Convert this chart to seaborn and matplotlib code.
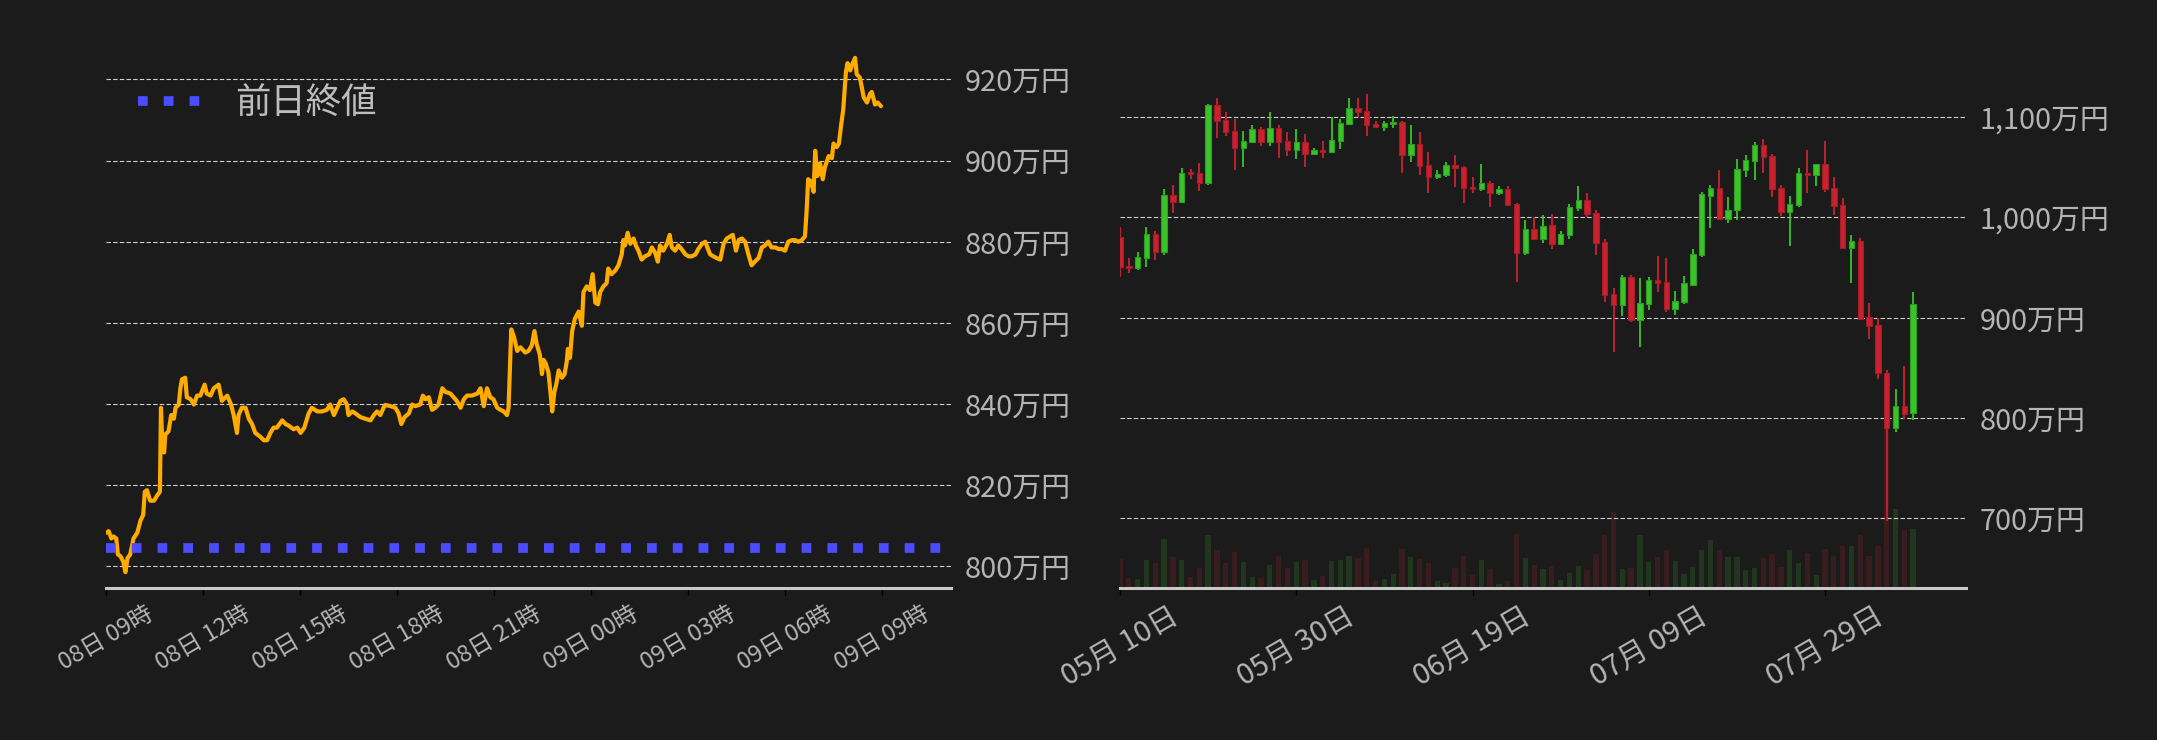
import matplotlib
matplotlib.use("Agg")
import matplotlib.pyplot as plt
import matplotlib.dates as mdates
from matplotlib.ticker import FuncFormatter, FixedLocator
import numpy as np
import pandas as pd
import seaborn as sns

# ---------------- data ----------------
# intraday (left): minutes after 2024-08-08 09:00 JST, price in 万円
intraday_start = "2024-08-08 09:00"
intraday_minutes = [
    0, 5, 10, 14, 19, 22, 27, 32, 36, 40,
    45, 51, 58, 64, 69, 72, 76, 82, 89, 95,
    100, 102, 105, 108, 110, 116, 121, 126, 129, 135,
    138, 141, 147, 150, 157, 163, 169, 175, 183, 187,
    194, 200, 209, 215, 225, 232, 237, 243, 246, 252,
    259, 265, 271, 277, 286, 293, 299, 305, 311, 317,
    327, 333, 339, 348, 355, 361, 368, 376, 382, 392,
    401, 410, 416, 423, 429, 435, 441, 447, 450, 457,
    463, 472, 481, 491, 497, 503, 509, 515, 518, 528,
    537, 543, 548, 554, 562, 568, 574, 583, 588, 593,
    599, 605, 611, 617, 624, 630, 639, 645, 651, 658,
    664, 670, 679, 689, 695, 701, 707, 713, 719, 726,
    732, 738, 744, 747, 752, 757, 763, 769,
    778, 784, 790, 795, 799, 805, 809, 812, 816, 821,
    824, 828, 832, 836, 840, 846, 851, 855, 857, 861,
    865, 870, 877, 883, 886, 892, 898, 903, 908, 913,
    917, 923, 929, 932, 938, 945, 951, 957, 960, 963,
    968, 973, 979, 983, 988, 994, 1000, 1008, 1013, 1019,
    1024, 1028, 1034, 1041, 1046, 1050, 1056, 1062, 1068, 1075,
    1081, 1087, 1094, 1099, 1106, 1112, 1117, 1121, 1127, 1133,
    1140, 1146, 1152, 1158, 1163, 1169, 1174, 1180, 1186, 1192,
    1198, 1204, 1211, 1217, 1223, 1229, 1235, 1242, 1248, 1254,
    1260, 1266, 1273, 1279, 1285, 1291, 1297, 1300, 1303, 1308,
    1313, 1316, 1320, 1325, 1330, 1334, 1341, 1347, 1350, 1356,
    1360, 1364, 1368, 1373, 1376, 1381, 1384, 1390, 1393, 1399,
    1406, 1412, 1418, 1421, 1427, 1432, 1438,
]
intraday_prices = [
    808.3, 808.7, 806.9, 807.4, 806.9, 803.0, 802.5, 801.2, 798.6, 802.1,
    803.0, 806.9, 808.3, 811.3, 812.7, 818.4, 818.8, 816.2, 816.2, 817.5,
    818.4, 839.1, 828.5, 828.1, 832.5, 833.3, 837.3, 836.4, 839.1, 839.9,
    843.9, 846.1, 846.5, 841.7, 841.2, 839.9, 842.1, 842.1, 844.8, 842.6,
    842.1, 843.9, 844.8, 840.8, 842.1, 839.9, 837.3, 832.9, 837.3, 839.1,
    839.1, 836.4, 835.1, 832.9, 832.0, 831.1, 831.1, 832.9, 834.2, 834.2,
    836.0, 835.1, 834.7, 833.8, 834.2, 832.9, 834.2, 837.7, 839.1, 838.2,
    838.2, 838.6, 839.9, 837.3, 839.1, 840.8, 841.2, 839.9, 837.3, 838.2,
    837.7, 836.8, 836.4, 836.0, 837.3, 838.2, 837.3, 839.1, 839.8, 839.5,
    839.1, 837.7, 835.1, 836.8, 837.7, 839.9, 839.5, 839.9, 842.1, 841.2,
    841.7, 838.6, 839.1, 839.9, 843.9, 843.0, 842.6, 841.7, 840.8, 839.1,
    841.2, 842.1, 842.1, 842.6, 843.9, 839.5, 843.9, 841.7, 841.2, 839.1,
    838.6, 838.2, 837.3, 839.1, 858.4, 856.6, 853.1, 854.0,
    852.7, 853.1, 854.4, 858.0, 854.9, 852.2, 847.4, 850.9, 850.0, 847.8,
    843.9, 838.2, 843.0, 845.2, 848.3, 846.5, 847.4, 850.5, 853.6, 851.4,
    858.0, 861.0, 862.8, 859.3, 867.6, 869.0, 868.1, 872.0, 865.0, 864.6,
    867.6, 869.0, 869.8, 873.4, 872.0, 872.9, 874.2, 876.9, 880.4, 879.1,
    882.2, 879.5, 880.8, 879.1, 877.8, 875.6, 876.4, 876.9, 878.6, 877.3,
    875.1, 879.1, 877.8, 879.5, 881.7, 878.6, 877.8, 879.1, 878.2, 876.9,
    876.4, 876.4, 876.9, 878.2, 879.5, 880.0, 878.2, 876.9, 876.4, 876.0,
    875.6, 879.5, 880.8, 881.3, 881.7, 877.8, 880.4, 880.8, 880.0, 876.9,
    874.2, 875.1, 876.0, 878.6, 879.1, 880.0, 878.6, 878.6, 878.2, 878.2,
    877.8, 880.0, 880.4, 880.4, 880.0, 880.4, 881.3, 887.4, 895.4, 894.9,
    892.3, 902.4, 896.2, 899.3, 895.4, 898.4, 901.1, 900.6, 904.2, 903.3,
    904.2, 908.6, 912.5, 921.8, 924.0, 922.2, 923.5, 925.3, 921.3, 920.4,
    915.6, 914.3, 916.5, 916.9, 913.8, 914.3, 913.4,
]
prev_close = 804.6
left_yticks = [800, 820, 840, 860, 880, 900, 920]
legend_label = "前日終値"

# daily candles (right): 2024-05-10 .. 2024-08-08, values in 万円
daily_start = "2024-05-10"
opens = [
    980.3, 951.3, 949.7, 959.7, 983.3, 965.7, 1022.3, 1015.7, 1044.7, 1044.3,
    1034.7, 1112.3, 1097.3, 1086.3, 1069.7, 1075.3, 1088.3, 1075.7, 1089.3, 1076.3,
    1067.7, 1075.3, 1063.7, 1067.3, 1065.7, 1076.7, 1093.7, 1109.3, 1106.3, 1093.3,
    1090.7, 1093.7, 1095.3, 1062.7, 1073.3, 1052.3, 1040.7, 1042.7, 1052.3, 1050.3,
    1030.3, 1028.7, 1034.3, 1024.7, 1028.3, 1013.3, 964.7, 988.3, 978.7, 992.3,
    973.7, 982.7, 1009.7, 1017.3, 1004.3, 975.3, 923.3, 912.7, 940.3, 897.7,
    913.7, 937.3, 935.3, 908.7, 915.7, 932.7, 962.7, 1021.7, 1029.3, 998.7,
    1007.7, 1047.7, 1056.7, 1072.3, 1061.3, 1029.3, 1005.7, 1012.7, 1044.3, 1042.7,
    1053.3, 1029.3, 1012.3, 969.7, 976.3, 900.3, 892.3, 845.3, 789.7, 812.3,
    804.7,
]
closes = [
    950.7, 949.7, 960.3, 983.3, 965.7, 1022.3, 1015.7, 1044.3, 1043.7, 1034.7,
    1112.3, 1096.7, 1085.7, 1069.7, 1076.3, 1088.3, 1075.7, 1089.3, 1075.7, 1067.7,
    1075.3, 1063.7, 1067.3, 1065.7, 1077.3, 1094.3, 1109.3, 1105.3, 1092.7, 1090.7,
    1094.3, 1095.3, 1062.7, 1073.3, 1051.7, 1040.7, 1043.3, 1052.3, 1049.7, 1029.7,
    1028.7, 1034.3, 1024.7, 1028.3, 1012.7, 964.7, 988.3, 978.7, 991.3, 973.7,
    983.3, 1010.3, 1017.3, 1003.7, 974.7, 922.7, 912.7, 940.3, 897.7, 914.3,
    937.3, 934.7, 908.7, 916.3, 934.3, 963.3, 1023.3, 1029.3, 998.7, 1007.3,
    1048.3, 1057.3, 1072.3, 1060.7, 1028.7, 1005.7, 1013.3, 1044.3, 1042.7, 1053.3,
    1028.7, 1011.7, 969.7, 976.3, 898.7, 891.7, 844.7, 789.7, 812.3, 803.7,
    913.3,
]
highs = [
    990.3, 959.3, 965.3, 990.3, 986.3, 1028.3, 1032.3, 1049.3, 1048.3, 1054.3,
    1113.3, 1119.3, 1105.3, 1098.3, 1086.3, 1092.3, 1090.3, 1105.3, 1092.3, 1085.3,
    1088.3, 1083.3, 1069.3, 1076.3, 1100.3, 1098.3, 1119.3, 1119.3, 1123.3, 1096.3,
    1096.3, 1101.3, 1096.3, 1092.3, 1085.3, 1065.3, 1047.3, 1055.3, 1062.3, 1051.3,
    1040.3, 1053.3, 1036.3, 1031.3, 1031.3, 1014.7, 997.3, 1000.7, 1002.3, 1003.3,
    986.3, 1013.3, 1031.3, 1024.3, 1007.3, 978.3, 929.3, 942.3, 942.3, 939.3,
    940.3, 961.3, 959.3, 926.3, 941.3, 968.3, 1025.3, 1032.3, 1047.3, 1020.3,
    1058.3, 1062.3, 1075.3, 1078.3, 1063.3, 1032.3, 1021.3, 1049.3, 1067.3, 1053.3,
    1076.3, 1040.3, 1019.3, 982.3, 979.3, 914.3, 899.3, 848.3, 829.3, 852.3,
    925.3,
]
lows = [
    940.7, 944.7, 947.7, 950.7, 957.7, 962.7, 1004.7, 1015.7, 1038.7, 1026.7,
    1032.7, 1079.7, 1081.7, 1047.3, 1050.3, 1074.7, 1071.7, 1071.7, 1059.3, 1061.7,
    1058.3, 1050.3, 1062.7, 1059.3, 1064.7, 1068.3, 1093.7, 1100.0, 1081.7, 1090.7,
    1086.7, 1089.7, 1044.7, 1055.7, 1042.7, 1024.7, 1038.7, 1040.7, 1030.7, 1014.7,
    1024.7, 1026.7, 1010.7, 1022.7, 1011.7, 935.7, 962.7, 977.7, 974.7, 968.7,
    973.7, 978.7, 1006.7, 1000.7, 962.7, 915.7, 865.7, 901.7, 895.7, 870.7,
    907.7, 925.7, 905.7, 902.7, 913.7, 932.7, 960.7, 989.7, 997.7, 994.7,
    997.7, 1040.7, 1037.7, 1044.7, 1020.7, 1001.7, 971.7, 1010.7, 1024.7, 1031.7,
    1025.7, 1002.7, 969.7, 934.7, 898.7, 878.7, 838.7, 697.3, 785.7, 798.7,
    797.7,
]
volumes = [
    88, 31, 28, 85, 76, 148, 94, 85, 34, 61,
    160, 115, 76, 109, 79, 34, 31, 70, 97, 61,
    79, 85, 25, 37, 82, 85, 97, 91, 121, 22,
    28, 43, 118, 94, 88, 76, 22, 16, 61, 97,
    40, 85, 58, 13, 22, 163, 91, 70, 58, 67,
    25, 46, 67, 55, 103, 160, 229, 58, 61, 160,
    79, 94, 115, 82, 43, 64, 115, 145, 115, 94,
    94, 55, 61, 91, 103, 64, 115, 76, 106, 40,
    118, 97, 127, 127, 160, 97, 127, 482, 238, 175,
    178,
]
right_yticks = [700, 800, 900, 1000, 1100]
right_xtick_dates = ["2024-05-10", "2024-05-30", "2024-06-19", "2024-07-09", "2024-07-29"]

# ---------------- style ----------------
BG = "#1b1b1b"
TXT = "#b4b4b4"
GRID = "#cfcfcf"
UP = "#3bc42a"
DOWN = "#c9222f"
UP_EDGE = "#2e9e22"
DOWN_EDGE = "#a51b27"

sns.set_theme(style="dark", rc={
    "axes.facecolor": BG, "figure.facecolor": BG, "savefig.facecolor": BG,
    "axes.edgecolor": "#c8c8c8", "text.color": TXT,
    "xtick.color": TXT, "ytick.color": TXT,
})
plt.rcParams["font.family"] = ["Noto Sans CJK JP", "DejaVu Sans"]

W, H = 2157, 740
fig = plt.figure(figsize=(W / 100, H / 100), dpi=100)
ax1 = fig.add_axes([106 / W, 152 / H, 845 / W, 548 / H])
ax2 = fig.add_axes([1120 / W, 152 / H, 846 / W, 548 / H])

# ---------------- left: intraday ----------------
t0 = pd.Timestamp(intraday_start)
times = t0 + pd.to_timedelta(intraday_minutes, unit="m")
df = pd.DataFrame({"time": times, "price": intraday_prices})
sns.lineplot(data=df, x="time", y="price", ax=ax1, color="#ffab00",
             linewidth=3.0, zorder=3)
ax1.axhline(prev_close, color="#4b4bff", lw=7, ls=":", label=legend_label, zorder=4)

ax1.set_xlim(t0, t0 + pd.Timedelta(minutes=1568))
ax1.set_ylim(794.7, 929.7)
ax1.set_xlabel("")
ax1.set_ylabel("")
ax1.set_yticks(left_yticks)
ax1.yaxis.tick_right()
ax1.yaxis.set_major_formatter(FuncFormatter(lambda v, p: f"{int(round(v)):,}万円"))
ax1.xaxis.set_major_locator(mdates.HourLocator(byhour=range(0, 24, 3)))
ax1.xaxis.set_major_formatter(mdates.DateFormatter("%d日 %H時"))

leg = ax1.legend(loc="upper left", bbox_to_anchor=(0.0, 0.975), frameon=False,
                 fontsize=25.5, handlelength=2.0, handletextpad=0.75)
for t in leg.get_texts():
    t.set_color("#bdbdbd")

# ---------------- right: daily candles ----------------
d0 = pd.Timestamp(daily_start)
days = pd.date_range(d0, periods=len(opens), freq="D")
xd = mdates.date2num(days.to_pydatetime())
o = np.array(opens); c = np.array(closes)
hi = np.array(highs); lo = np.array(lows)
up = c >= o
cols = [UP if u else DOWN for u in up]
ecols = [UP_EDGE if u else DOWN_EDGE for u in up]
body_bottom = np.minimum(o, c)
body_h = np.maximum(np.abs(c - o), 1.6)

axv = ax2.twinx()
axv.bar(xd, volumes, width=0.6, color=cols, alpha=0.17, linewidth=0)
axv.set_ylim(0, 1644)
axv.set_yticks([])
axv.grid(False)
for s in axv.spines.values():
    s.set_visible(False)

ax2.set_zorder(axv.get_zorder() + 1)
ax2.patch.set_visible(False)
ax2.vlines(xd, lo, hi, colors=cols, linewidth=1.3, zorder=2)
ax2.bar(xd, body_h, bottom=body_bottom, width=0.62, color=cols,
        edgecolor=ecols, linewidth=0.8, zorder=3)

ax2.set_xlim(mdates.date2num(pd.Timestamp("2024-05-10")),
             mdates.date2num(pd.Timestamp("2024-08-14")))
ax2.set_ylim(630.5, 1177)
ax2.set_yticks(right_yticks)
ax2.yaxis.tick_right()
ax2.yaxis.set_major_formatter(FuncFormatter(lambda v, p: f"{int(round(v)):,}万円"))
ax2.xaxis.set_major_locator(FixedLocator(mdates.date2num(pd.to_datetime(right_xtick_dates).to_pydatetime())))
ax2.xaxis.set_major_formatter(mdates.DateFormatter("%m月 %d日"))

# ---------------- common axis styling ----------------
for ax, xfs in ((ax1, 17), (ax2, 21)):
    ax.set_facecolor(BG)
    ax.grid(False)
    ax.yaxis.grid(True, color=GRID, linestyle=(0, (4, 2)), linewidth=0.8, zorder=1)
    ax.set_axisbelow(True)
    for name, s in ax.spines.items():
        s.set_visible(name == "bottom")
    ax.spines["bottom"].set_color("#c8c8c8")
    ax.spines["bottom"].set_linewidth(2.2)
    ax.tick_params(axis="y", which="both", length=0, pad=10, labelsize=20.8,
                   labelcolor=TXT, left=False, right=False,
                   labelleft=False, labelright=True)
    ax.tick_params(axis="x", length=5, width=1, color="#000000", pad=5,
                   labelsize=xfs, labelcolor=TXT, bottom=True)
    for lab in ax.get_xticklabels():
        lab.set_rotation(30)
        lab.set_ha("center")

fig.savefig("out.png", dpi=100, facecolor=BG)
